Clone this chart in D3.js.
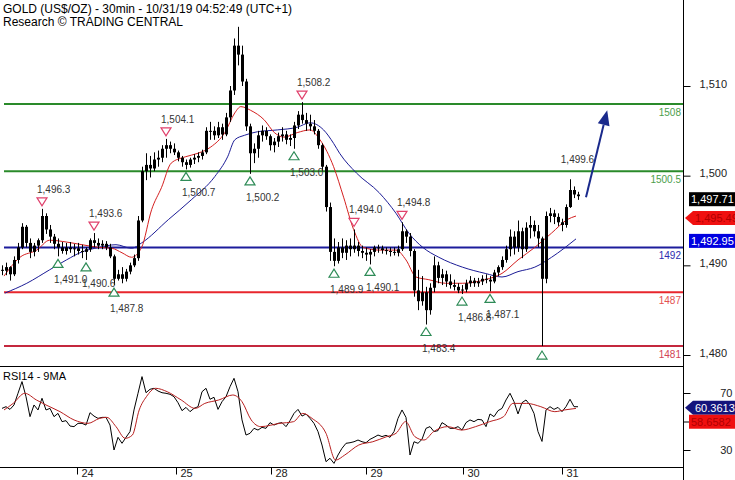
<!DOCTYPE html>
<html>
<head>
<meta charset="utf-8">
<script src="https://cdn.jsdelivr.net/npm/d3@7"></script>
<style>
  body { margin: 0; background: #fff; }
  svg { display: block; font-family: "Liberation Sans", Arial, sans-serif; }
</style>
</head>
<body>
<div id="chart"></div>
<script>
// Hourly bars (high, low, close)
const highs = [1490.0,1490.3,1489.9,1491.0,1492.5,1494.7,1494.5,1493.0,1492.5,1493.0,
  1496.3,1495.8,1494.5,1493.5,1493.0,1492.6,1492.5,1492.6,1492.4,1492.5,
  1492.3,1492.0,1493.0,1493.6,1493.0,1492.8,1492.7,1492.4,1491.2,1489.5,
  1489.8,1489.6,1490.3,1491.2,1495.5,1501.0,1502.5,1502.2,1502.6,1502.8,
  1503.4,1504.1,1503.8,1503.6,1502.8,1502.2,1501.8,1502.0,1502.4,1502.6,
  1502.9,1505.4,1506.0,1505.5,1506.0,1505.8,1507.0,1510.0,1515.3,1516.6,
  1514.5,1510.8,1505.8,1503.6,1505.0,1505.6,1505.4,1504.6,1504.2,1504.8,
  1505.4,1505.0,1504.6,1506.0,1507.2,1508.2,1507.0,1506.8,1506.2,1505.2,
  1503.6,1501.2,1497.0,1493.0,1492.6,1493.0,1492.8,1493.0,1494.0,1492.6,
  1492.2,1492.0,1491.8,1492.2,1492.3,1492.2,1492.0,1492.0,1492.0,1492.2,
  1494.8,1494.0,1493.6,1491.8,1489.5,1488.8,1487.6,1488.0,1491.0,1490.4,
  1489.6,1489.4,1489.0,1488.4,1488.0,1487.8,1488.4,1488.8,1488.6,1488.6,
  1488.9,1489.0,1488.8,1489.5,1490.0,1491.0,1492.2,1494.0,1493.8,1495.0,
  1494.2,1494.8,1495.5,1495.0,1494.5,1493.2,1496.0,1496.4,1496.2,1495.8,
  1495.2,1496.8,1499.6,1498.8,1498.2];
const lows = [1488.9,1488.9,1488.3,1488.8,1490.2,1491.8,1492.0,1490.8,1491.0,1491.5,
  1492.5,1493.5,1492.5,1491.8,1491.0,1491.3,1491.2,1491.4,1491.0,1491.2,
  1490.8,1490.6,1491.5,1492.0,1491.8,1491.8,1491.7,1490.8,1487.8,1488.3,
  1488.0,1488.2,1489.0,1489.8,1490.5,1494.8,1499.5,1499.8,1500.5,1501.0,
  1501.5,1502.0,1502.5,1502.3,1501.6,1501.0,1500.7,1500.9,1501.3,1501.5,
  1501.8,1502.4,1504.0,1504.0,1504.2,1504.0,1504.4,1506.0,1509.0,1512.3,
  1510.0,1505.0,1500.2,1501.4,1502.0,1503.8,1504.0,1502.8,1502.6,1503.2,
  1503.8,1503.5,1503.3,1503.0,1505.2,1505.8,1505.0,1505.0,1504.6,1503.0,
  1500.5,1496.0,1490.5,1489.9,1490.2,1490.8,1490.6,1491.0,1491.4,1491.0,
  1490.8,1490.5,1490.1,1491.0,1491.4,1491.3,1491.2,1491.0,1491.1,1491.0,
  1491.6,1492.5,1491.0,1486.5,1485.0,1485.5,1483.4,1484.5,1487.0,1488.0,
  1487.8,1487.6,1487.4,1487.2,1486.9,1486.8,1487.0,1487.6,1487.6,1487.6,
  1487.8,1488.0,1487.1,1488.0,1488.8,1489.5,1490.3,1491.0,1491.2,1491.5,
  1490.8,1491.5,1493.0,1493.2,1492.0,1481.0,1488.0,1494.8,1494.6,1494.4,
  1493.8,1494.2,1496.4,1497.5,1497.3];
const closes = [1489.4,1489.8,1489.0,1490.6,1492.0,1494.3,1492.5,1491.5,1492.2,1492.8,
  1495.5,1494.0,1493.2,1492.4,1492.0,1491.6,1492.0,1491.8,1491.9,1491.6,
  1491.5,1491.8,1492.8,1492.5,1492.2,1492.4,1492.0,1491.0,1488.5,1489.0,
  1488.5,1489.3,1490.0,1490.8,1495.0,1500.5,1501.2,1500.8,1501.8,1502.0,
  1503.0,1503.4,1503.0,1502.6,1502.0,1501.5,1501.2,1501.8,1502.0,1502.2,
  1502.6,1505.0,1505.0,1504.5,1505.4,1504.6,1506.5,1509.5,1514.5,1513.5,
  1510.5,1505.5,1502.5,1503.0,1504.5,1505.0,1504.4,1503.4,1503.8,1504.4,
  1504.6,1504.0,1504.2,1505.6,1506.8,1506.2,1505.8,1505.5,1505.0,1503.4,
  1501.0,1496.5,1491.5,1490.5,1492.0,1491.4,1492.2,1491.8,1492.2,1491.6,
  1491.4,1491.2,1491.5,1492.0,1491.9,1491.7,1491.6,1491.5,1491.4,1491.8,
  1493.8,1493.2,1491.6,1487.2,1486.0,1487.0,1485.0,1487.5,1490.0,1488.6,
  1489.0,1488.2,1487.8,1487.6,1487.2,1487.3,1488.0,1488.3,1488.0,1488.2,
  1488.5,1488.4,1488.2,1489.2,1489.8,1490.6,1491.8,1493.2,1492.0,1493.8,
  1491.8,1494.2,1494.5,1493.8,1493.0,1488.5,1495.5,1495.8,1495.4,1494.8,
  1494.5,1496.5,1498.4,1497.9,1497.71];
const firstOpen = 1489.5;

// Moving averages: [bar index, price]
const maRed = [[0.5,1488.8],[4.5,1490.9],[8.7,1491.7],[11.9,1492.8],[16.1,1492.6],[20,1492.3],
  [24.3,1492.0],[27.5,1491.9],[30,1491.4],[32.4,1490.9],[34.9,1492.0],[37.4,1496.2],[39.9,1498.7],
  [42.3,1501.4],[45.8,1502.1],[49,1502.5],[52.2,1503.2],[55.7,1504.8],[58.2,1507.0],[59.7,1507.7],
  [62.1,1507.3],[65.6,1506.2],[68.1,1504.8],[70.5,1504.3],[73.8,1504.8],[77,1505.1],[79.5,1504.0],
  [82.9,1501.0],[85.4,1497.6],[87.9,1494.0],[90.3,1492.0],[94.3,1491.7],[98.5,1491.7],[101,1490.6],
  [103.5,1488.7],[106.7,1488.4],[110.9,1488.0],[115.1,1488.0],[120.8,1488.4],[125,1489.1],
  [129,1490.6],[133.2,1492.0],[137.4,1493.6],[141.3,1495.1],[143.5,1495.5]];
const maBlue = [[0.7,1486.9],[6.2,1488.0],[11.9,1489.5],[16.1,1490.6],[20,1491.5],[24.3,1492.0],
  [28.5,1492.3],[32.4,1491.9],[34.9,1492.5],[41.6,1495.1],[47.3,1497.3],[53.2,1499.9],[56.4,1502.1],
  [58.2,1504.0],[60.6,1504.5],[63.9,1504.9],[68.8,1505.1],[73.8,1505.4],[77,1505.9],[80.4,1505.1],
  [82.9,1503.6],[84.4,1502.5],[88.6,1500.3],[94.3,1498.1],[98.5,1495.8],[101.7,1493.6],[105.2,1492.0],
  [109.2,1490.9],[115.1,1489.8],[120.8,1489.1],[125,1488.7],[129,1489.3],[133.2,1489.8],
  [137.4,1490.9],[143.5,1492.95]];

// RSI 14 per bar and its 9 period average
const rsi = [59.2,60.4,58.5,61.6,69.8,78.0,67.4,53.4,61.6,58.1,
  66.3,58.1,59.2,53.4,55.7,49.9,50.6,46.8,46.4,48.7,
  48.7,47.5,56.2,53.8,52.2,52.9,52.9,47.5,30.0,38.9,
  34.7,38.9,42.9,58.1,69.8,81.5,70.2,72.6,73.3,71.4,
  70.2,69.8,69.1,67.4,63.2,57.6,59.9,56.9,59.2,60.4,
  70.9,73.3,65.6,67.0,58.5,63.9,67.4,74.4,80.3,70.9,
  51.1,40.5,41.7,45.2,44.0,45.9,45.2,49.2,47.5,48.7,
  49.2,46.4,50.6,55.7,58.5,53.8,55.3,52.2,48.7,42.9,
  33.5,21.8,24.2,20.6,26.5,31.2,34.7,35.1,35.8,37.0,
  35.8,35.1,37.5,38.9,40.5,39.4,40.3,38.9,42.9,52.2,
  58.1,52.9,26.5,35.8,34.7,37.5,45.2,46.4,42.9,43.6,
  49.2,47.5,45.2,45.2,46.4,44.0,49.2,51.1,49.9,51.5,
  51.1,46.4,55.3,53.4,57.6,59.2,65.1,69.8,63.9,55.3,
  63.2,65.1,61.6,55.7,42.9,36.0,58.1,60.4,58.5,59.9,
  56.9,60.4,65.6,60.4,60.36];
const rsiMa = [[0.5,58.1],[2.8,62.7],[5.7,69.8],[8.6,65.1],[11,61.6],[14.5,56.9],[18,51.1],
  [21.5,48.7],[24.4,52.2],[26.2,52.9],[28.5,46.4],[30.8,38.2],[32.6,40.5],[34.3,58.1],[36.1,67.4],
  [38.4,73.3],[41.3,70.9],[44.8,65.1],[48.3,59.2],[50.7,62.7],[54.2,65.1],[57.7,68.6],[60,63.9],
  [62.3,51.1],[64.7,46.4],[69.4,48.7],[72.9,49.9],[75.2,55.7],[77.5,52.2],[81,41.7],[83.4,22.9],
  [85.7,26.5],[89.2,33.5],[92.7,35.8],[96.2,39.4],[98.5,41.7],[100.9,49.9],[103.2,39.4],
  [105.5,37.0],[107.9,42.9],[111.4,46.4],[114.9,44.0],[118.4,46.4],[121.9,49.9],[125.4,53.4],
  [127.7,62.7],[131.2,62.7],[134.7,60.4],[138.2,56.9],[140.6,58.1],[143.5,59.2]];

// Support / resistance levels
const levels = [1508, 1500.5, 1492, 1487, 1481];
const levelLabels = ["1508", "1500.5", "1492", "1487", "1481"];

// Swing markers
const topIdx = [10, 23, 41, 75, 88, 100];
const topVal = [1496.3, 1493.6, 1504.1, 1508.2, 1494.0, 1494.8];
const bottomIdx = [14, 21, 28, 46, 62, 73, 83, 92, 106, 115, 122, 135];
const bottomVal = [1491.0, 1490.6, 1487.8, 1500.7, 1500.2, 1503.0, 1489.9, 1490.1, 1483.4, 1486.8, 1487.1, 1481.0];
const bottomShown = [1, 1, 1, 1, 1, 1, 1, 1, 1, 1, 1, 0];
const lastHighIdx = 144.2;
const lastHighVal = 1499.6;

// Target arrow: [bar index, price]
const arrowFrom = [146.5, 1497.6];
const arrowTo = [151.8, 1507.3];

// Axis ticks
const priceTicks = [1480, 1490, 1500, 1510];
const rsiTicks = [30, 50, 70];
const rsiTickLabels = ["30", "", "70"];
const dayTickIdx = [19.25, 44, 67.75, 91.5, 115.75, 140.5];
const dayLabels = ["24", "25", "28", "29", "30", "31"];

// Last values shown on the right
const lastRedMa = 1495.49;
const lastBlueMa = 1492.95;
const lastRsi = 60.3613;
const lastRsiMa = 58.6582;

// --- drawing ---
const W = 735, H = 480;
const axisX = 683;
const mainBottom = 366;
const rsiTop = 367, rsiBottom = 467;

const colors = {
  levels: ["#2a8a2a", "#2a8a2a", "#1c1c9c", "#e8262c", "#c4283e"],
  levelText: ["#4b9e4b", "#4b9e4b", "#2c2cb0", "#e45050", "#d24456"],
  maRed: "#d42020",
  maBlue: "#1c1c96",
  top: "#e0406c",
  bottom: "#2e8b57",
  arrow: "#1a2a8c"
};

const svg = d3.select("#chart").append("svg")
  .attr("width", W)
  .attr("height", H);

const x = d3.scaleLinear().domain([0, 145]).range([0, 580]);
const y = d3.scaleLinear().domain([1480, 1510]).range([355, 86]);
const yR = d3.scaleLinear().domain([30, 70]).range([450, 393]);

// clip paths for the two panels
const defs = svg.append("defs");
defs.append("clipPath").attr("id", "clipMain")
  .append("rect").attr("x", 0).attr("y", 0).attr("width", axisX).attr("height", mainBottom);
defs.append("clipPath").attr("id", "clipRsi")
  .append("rect").attr("x", 0).attr("y", rsiTop).attr("width", axisX).attr("height", rsiBottom - rsiTop);

const main = svg.append("g").attr("clip-path", "url(#clipMain)");

// title
svg.append("text").attr("x", 3).attr("y", 13).attr("font-size", 12).attr("fill", "#000")
  .text("GOLD (US$/OZ) - 30min - 10/31/19 04:52:49 (UTC+1)");
svg.append("text").attr("x", 3).attr("y", 26).attr("font-size", 12).attr("fill", "#000")
  .text("Research \u00A9 TRADING CENTRAL");

// horizontal levels
levels.forEach((lv, i) => {
  main.append("line")
    .attr("x1", 4).attr("x2", axisX)
    .attr("y1", y(lv)).attr("y2", y(lv))
    .attr("stroke", colors.levels[i]).attr("stroke-width", 2);
  main.append("text")
    .attr("x", axisX - 2).attr("y", y(lv) + 12)
    .attr("text-anchor", "end").attr("font-size", 10)
    .attr("fill", colors.levelText[i])
    .text(levelLabels[i]);
});

// moving averages
const maLine = d3.line().x(d => x(d[0] + 0.5)).y(d => y(d[1])).curve(d3.curveMonotoneX);
main.append("path").attr("d", maLine(maBlue)).attr("fill", "none")
  .attr("stroke", colors.maBlue).attr("stroke-width", 1);
main.append("path").attr("d", maLine(maRed)).attr("fill", "none")
  .attr("stroke", colors.maRed).attr("stroke-width", 1);

// candles
const bars = highs.map((h, i) => ({
  i: i, high: h, low: lows[i], close: closes[i],
  open: i === 0 ? firstOpen : closes[i - 1]
}));
const candle = main.append("g");
candle.selectAll(".wick").data(bars).enter().append("line")
  .attr("x1", d => Math.round(x(d.i + 0.5)) + 0.5)
  .attr("x2", d => Math.round(x(d.i + 0.5)) + 0.5)
  .attr("y1", d => y(d.high)).attr("y2", d => y(d.low))
  .attr("stroke", "#000").attr("stroke-width", 1);
candle.selectAll(".body").data(bars).enter().append("rect")
  .attr("x", d => Math.round(x(d.i + 0.5)) - 1)
  .attr("width", 3)
  .attr("y", d => y(Math.max(d.open, d.close)))
  .attr("height", d => Math.max(1, Math.abs(y(d.open) - y(d.close))))
  .attr("fill", "#000");

// swing markers
const tri = 5;
topIdx.forEach((bi, k) => {
  const cx = x(bi + 0.5), cy = y(topVal[k]) - 7;
  main.append("path")
    .attr("d", `M${cx - tri},${cy - 4}L${cx + tri},${cy - 4}L${cx},${cy + 4}Z`)
    .attr("fill", "#fff").attr("stroke", colors.top).attr("stroke-width", 1.2);
  main.append("text").attr("x", cx - 5).attr("y", cy - 9)
    .attr("font-size", 10).attr("fill", "#333")
    .text(d3.format(",.1f")(topVal[k]));
});
bottomIdx.forEach((bi, k) => {
  const cx = x(bi + 0.5), cy = y(bottomVal[k]) + (k === bottomIdx.length - 1 ? 9 : 7);
  main.append("path")
    .attr("d", `M${cx - tri},${cy + 4}L${cx + tri},${cy + 4}L${cx},${cy - 4}Z`)
    .attr("fill", "#fff").attr("stroke", colors.bottom).attr("stroke-width", 1.2);
  if (bottomShown[k]) {
    main.append("text").attr("x", cx - 4).attr("y", cy + 20)
      .attr("font-size", 10).attr("fill", "#333")
      .text(d3.format(",.1f")(bottomVal[k]));
  }
});
main.append("text").attr("x", x(lastHighIdx) - 16).attr("y", y(lastHighVal) - 16)
  .attr("font-size", 10).attr("fill", "#333")
  .text(d3.format(",.1f")(lastHighVal));

// target arrow
const ax1 = x(arrowFrom[0]), ay1 = y(arrowFrom[1]);
const ax2 = x(arrowTo[0]), ay2 = y(arrowTo[1]);
const ang = Math.atan2(ay2 - ay1, ax2 - ax1);
const headLen = 15, headW = 6;
const bx = ax2 - headLen * Math.cos(ang), by = ay2 - headLen * Math.sin(ang);
main.append("line").attr("x1", ax1).attr("y1", ay1).attr("x2", bx).attr("y2", by)
  .attr("stroke", colors.arrow).attr("stroke-width", 2);
main.append("path")
  .attr("d", `M${ax2},${ay2}L${bx + headW * Math.sin(ang)},${by - headW * Math.cos(ang)}` +
    `L${bx - headW * Math.sin(ang)},${by + headW * Math.cos(ang)}Z`)
  .attr("fill", colors.arrow);

// RSI panel
const rsiG = svg.append("g").attr("clip-path", "url(#clipRsi)");
const rsiLine = d3.line().x((d, i) => x(i + 0.5)).y(d => yR(d));
rsiG.append("path").attr("d", rsiLine(rsi)).attr("fill", "none")
  .attr("stroke", "#000").attr("stroke-width", 1);
const rsiMaLine = d3.line().x(d => x(d[0] + 0.5)).y(d => yR(d[1])).curve(d3.curveMonotoneX);
rsiG.append("path").attr("d", rsiMaLine(rsiMa)).attr("fill", "none")
  .attr("stroke", "#b82020").attr("stroke-width", 1);
svg.append("text").attr("x", 3).attr("y", 380).attr("font-size", 11).attr("fill", "#000")
  .text("RSI14 - 9MA");

// frame lines
svg.append("line").attr("x1", axisX + 0.5).attr("x2", axisX + 0.5).attr("y1", 0).attr("y2", H)
  .attr("stroke", "#000");
svg.append("line").attr("x1", 0).attr("x2", axisX).attr("y1", mainBottom + 0.5).attr("y2", mainBottom + 0.5)
  .attr("stroke", "#000");
svg.append("line").attr("x1", 0).attr("x2", axisX).attr("y1", rsiBottom + 0.5).attr("y2", rsiBottom + 0.5)
  .attr("stroke", "#000");

// price axis
const priceAxis = svg.append("g").attr("transform", `translate(${axisX + 0.5},0)`)
  .call(d3.axisRight(y).tickValues(priceTicks).tickSize(7).tickPadding(9).tickFormat(d3.format(",")));
priceAxis.select(".domain").remove();
priceAxis.selectAll("text").attr("font-size", 11).attr("font-family", "Liberation Sans, Arial, sans-serif")
  .attr("fill", "#222").attr("dy", "0.1em");

// RSI axis
const rsiAxis = svg.append("g").attr("transform", `translate(${axisX + 0.5},0)`)
  .call(d3.axisRight(yR).tickValues(rsiTicks).tickSize(7).tickFormat((d, i) => rsiTickLabels[i]));
rsiAxis.select(".domain").remove();
rsiAxis.selectAll("text").attr("font-size", 11).attr("font-family", "Liberation Sans, Arial, sans-serif")
  .attr("fill", "#222").attr("text-anchor", "end").attr("x", 49);

// date axis
const dateAxis = svg.append("g").attr("transform", `translate(0,${rsiBottom + 0.5})`)
  .call(d3.axisBottom(x).tickValues(dayTickIdx).tickSize(7).tickFormat((d, i) => dayLabels[i]));
dateAxis.select(".domain").remove();
dateAxis.selectAll("text").attr("font-size", 11).attr("font-family", "Liberation Sans, Arial, sans-serif")
  .attr("fill", "#222").attr("text-anchor", "start").attr("x", 4).attr("y", 2);

// value boxes on the right
function valueBox(cy, fill, textFill, label, pointer) {
  const g = svg.append("g");
  const left = axisX + 6, top = cy - 7;
  if (pointer) {
    g.append("path")
      .attr("d", `M${axisX + 2},${cy}L${left + 4},${top}L${W},${top}L${W},${top + 14}L${left + 4},${top + 14}Z`)
      .attr("fill", fill);
  } else {
    g.append("rect").attr("x", left).attr("y", top).attr("width", W - left).attr("height", 14).attr("fill", fill);
  }
  g.append("text").attr("x", left + (pointer ? 6 : 2)).attr("y", cy + 4)
    .attr("font-size", 11).attr("fill", textFill).text(label);
}
valueBox(y(closes[closes.length - 1]) + 3, "#000", "#fff", d3.format(",.2f")(closes[closes.length - 1]), false);
valueBox(y(lastRedMa) + 2, "#f01010", "#b00000", d3.format(",.2f")(lastRedMa), true);
valueBox(y(lastBlueMa) + 2, "#0000e0", "#fff", d3.format(",.2f")(lastBlueMa), false);
valueBox(yR(lastRsi) + 1, "#14147c", "#fff", d3.format(".4f")(lastRsi), true);
valueBox(yR(lastRsi) + 15, "#f01010", "#b00000", d3.format(".4f")(lastRsiMa), false);
</script>
</body>
</html>
